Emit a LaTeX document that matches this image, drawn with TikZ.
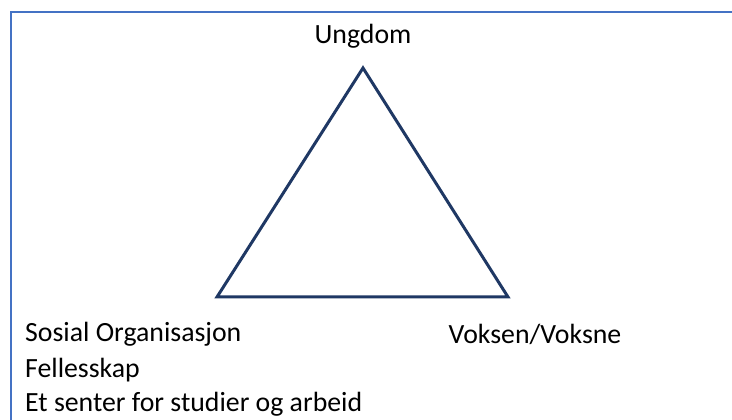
\documentclass[tikz,border=0pt]{standalone}
\usepackage{fontspec}
\setmainfont{Carlito}
\definecolor{frameblue}{HTML}{4472C4}
\definecolor{navy}{HTML}{1F3864}
\tikzset{
  lbl/.style={font=\fontsize{27.8}{32}\selectfont, inner sep=0pt},
}
\begin{document}
\begin{tikzpicture}[x=1pt,y=1pt]
      \useasboundingbox (0,0) rectangle (732,420);
      \draw[frameblue, line width=2pt] (11,0) -- (11,408) -- (732,408);
      \draw
        (363,352) coordinate (top)
        (217,123) coordinate (left)
        (508,123) coordinate (right);
      \draw
        (363,384) node[lbl] (ungdom){Ungdom}
        (25,86) node[lbl, anchor=west] (sosial){Sosial Organisasjon}
        (25,50) node[lbl, anchor=west] (felles){Fellesskap}
        (25,16) node[lbl, anchor=west] (senter){Et senter for studier og arbeid}
        (535,86) node[lbl] (voksen){Voksen/Voksne};
      \begin{scope}[navy, line width=3pt, line join=miter]
        \draw (top) -- (left) -- (right) -- cycle;
      \end{scope}
    \end{tikzpicture}
\end{document}
